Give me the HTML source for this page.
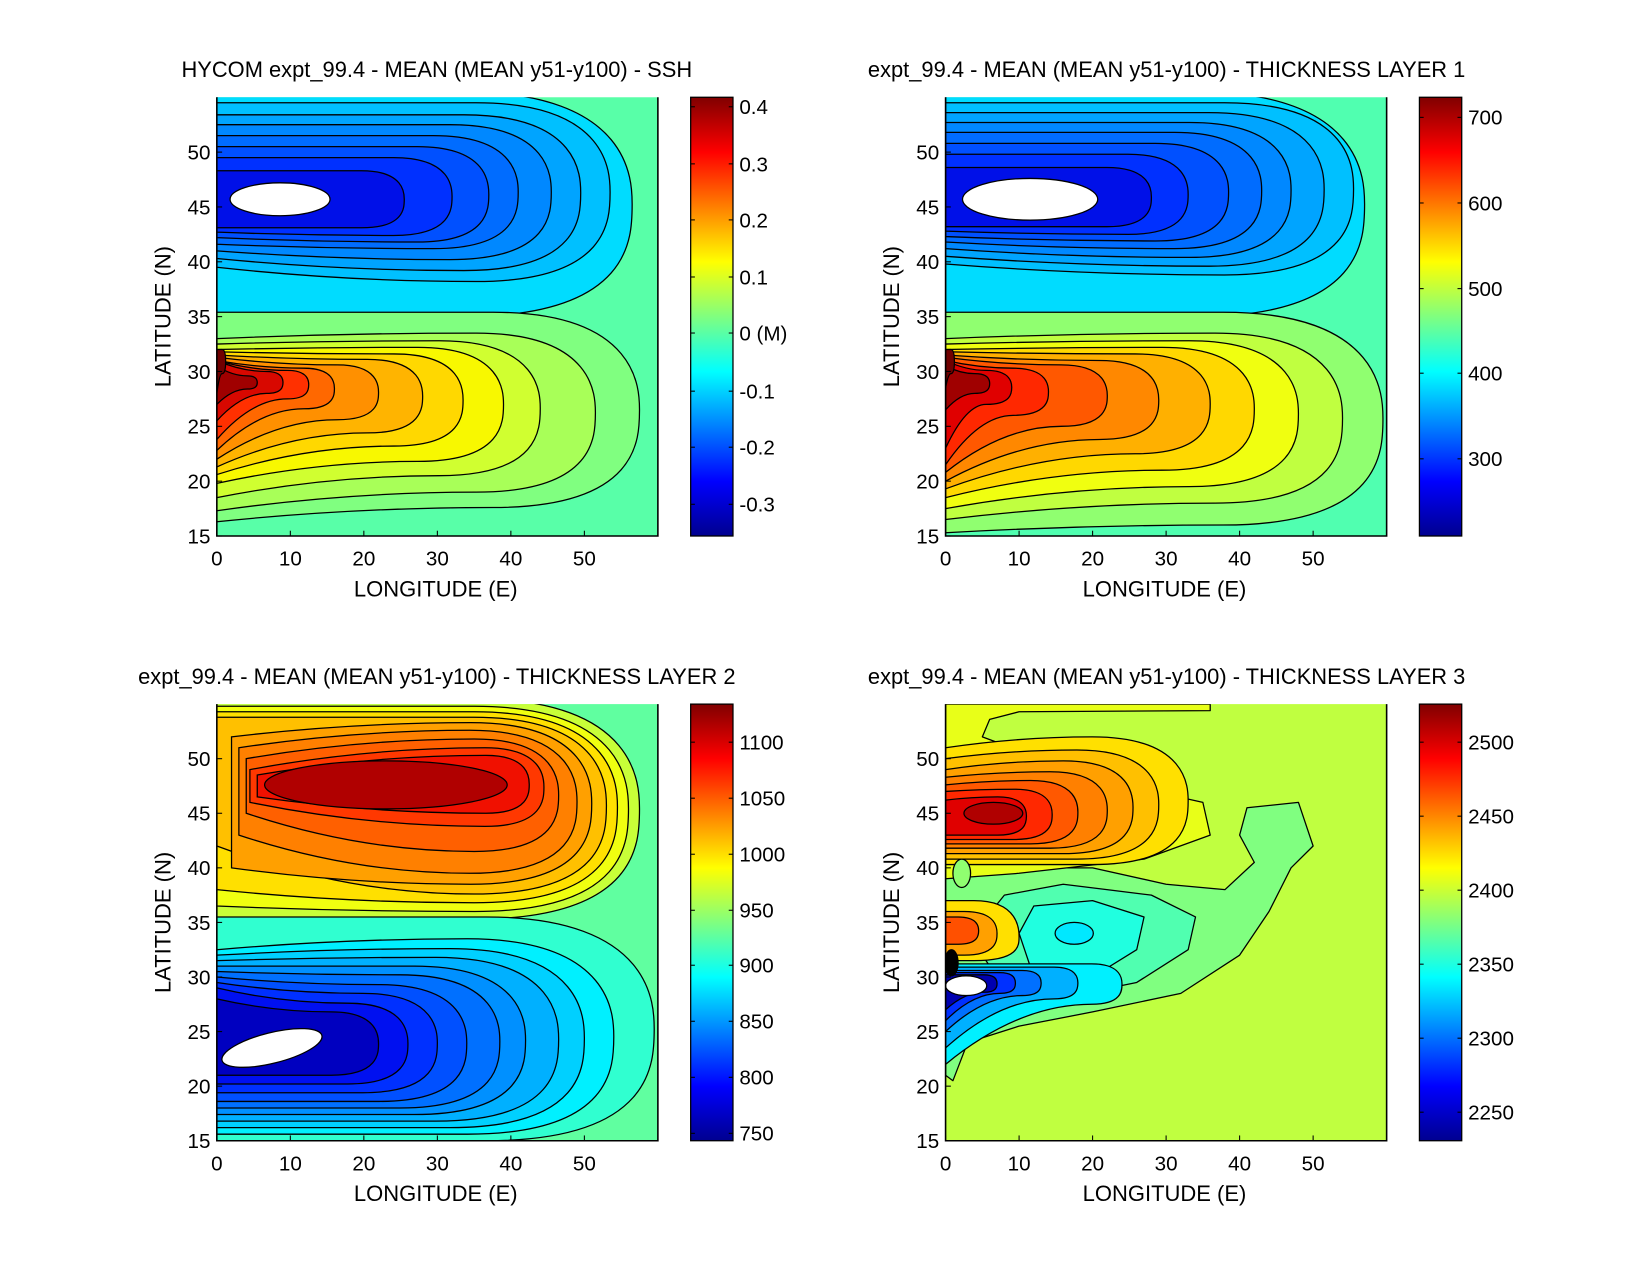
<!DOCTYPE html>
<html><head><meta charset="utf-8"><style>
html,body{margin:0;padding:0;background:#fff;}
svg{display:block;}
text{font-family:"Liberation Sans",sans-serif;fill:#000;}
</style></head><body>
<svg id="s" width="1650" height="1275" viewBox="0 0 1560 1206" preserveAspectRatio="none" xmlns="http://www.w3.org/2000/svg">
<defs>
<linearGradient id="jet" x1="0" y1="1" x2="0" y2="0">
<stop offset="0" stop-color="#00008f"/><stop offset="0.125" stop-color="#0000ff"/>
<stop offset="0.375" stop-color="#00ffff"/><stop offset="0.625" stop-color="#ffff00"/>
<stop offset="0.875" stop-color="#ff0000"/><stop offset="1" stop-color="#800000"/>
</linearGradient>
</defs>
</svg>
<script>
var S=document.getElementById('s'),NS='http://www.w3.org/2000/svg';
function el(t,a,txt){var e=document.createElementNS(NS,t);for(var k in a)e.setAttribute(k,a[k]);if(txt!==undefined)e.textContent=txt;S.appendChild(e);return e;}
function panel(ax,ay,h,bg,layers,cb,title,tx){
 var W=417;
 function X(l){return ax+l*6.95;} function Y(l){return ay+(55-l)*(h/40);}
 el('clipPath',{id:'c'+ax+ay}).appendChild((function(){var r=document.createElementNS(NS,'rect');r.setAttribute('x',ax);r.setAttribute('y',ay);r.setAttribute('width',W);r.setAttribute('height',h);return r;})());
 el('rect',{x:ax,y:ay,width:W,height:h,fill:bg});
 layers.forEach(function(L){
  if(L.t=='g'){var x0=X(L.x0||0),yt=Y(L.a),yb=Y(L.b),xe=X(L.e);var hh=yb-yt;var xm=Math.max(x0+5,xe-Math.min(0.75*hh,(xe-x0)*0.7));
   var yt0=Y(L.a0!==undefined?L.a0:L.a),yb0=Y(L.b0!==undefined?L.b0:L.b);var xq=(x0+xm)/2;
   var ym=yt+hh*(L.m||0.5);
   var d='M'+x0+','+yt0+' Q'+xq+','+yt+' '+xm+','+yt+' C'+xe+','+yt+' '+xe+','+(ym-hh*0.1)+' '+xe+','+ym+' C'+xe+','+(ym+hh*0.15)+' '+xe+','+yb+' '+xm+','+yb+' Q'+xq+','+yb+' '+x0+','+yb0+' Z';
   el('path',{d:d,fill:L.c,stroke:'#000','stroke-width':1.2,'clip-path':'url(#c'+ax+ay+')'});}
  else if(L.t=='e'){el('ellipse',{cx:X(L.x),cy:Y(L.y),rx:L.rx*6.95,ry:L.ry*(h/40),fill:L.c,stroke:'#000','stroke-width':1.2,transform:L.r?'rotate('+L.r+' '+X(L.x)+' '+Y(L.y)+')':'','clip-path':'url(#c'+ax+ay+')'});}
  else if(L.t=='p'){var d='M'+L.p.map(function(q){return X(q[0])+','+Y(q[1]);}).join(' L')+' Z';el('path',{d:d,fill:L.c,stroke:'#000','stroke-width':1.2,'stroke-linejoin':'round','clip-path':'url(#c'+ax+ay+')'});}
 });
 el('path',{d:'M'+ax+','+ay+' L'+ax+','+(ay+h)+' L'+(ax+W)+','+(ay+h)+' L'+(ax+W)+','+ay,fill:'none',stroke:'#000','stroke-width':1.5});
 for(var i=0;i<=5;i++){var x=X(i*10);el('line',{x1:x,y1:ay+h,x2:x,y2:ay+h-5,stroke:'#000'});el('text',{x:x,y:ay+h+28,'font-size':19.5,'text-anchor':'middle'},''+i*10);}
 for(var j=15;j<=50;j+=5){var y=Y(j);el('line',{x1:ax,y1:y,x2:ax+5,y2:y,stroke:'#000'});el('text',{x:ax-6,y:y+7,'font-size':19.5,'text-anchor':'end'},''+j);}
 el('text',{x:ax+207,y:ay+h+57,'font-size':20.8,'text-anchor':'middle'},'LONGITUDE (E)');
 el('text',{x:0,y:0,'font-size':20.8,'text-anchor':'middle',transform:'translate('+(ax-44)+','+(ay+h/2)+') rotate(-90)'},'LATITUDE (N)');
 el('text',{x:tx,y:ay-19,'font-size':20.7,'text-anchor':'middle'},title);
 var cx=ax+448;el('rect',{x:cx,y:ay,width:40,height:h,fill:'url(#jet)',stroke:'#000','stroke-width':1.2});
 cb.forEach(function(t){el('line',{x1:cx,y1:t[1],x2:cx+4,y2:t[1],stroke:'#000'});el('line',{x1:cx+40,y1:t[1],x2:cx+36,y2:t[1],stroke:'#000'});el('text',{x:cx+46,y:t[1]+7,'font-size':19.5},t[0]);});
}
// Panel 1 SSH
var ssh=[
{t:'g',c:'#00dcff',a:55.5,b:35,e:56.5},{t:'g',c:'#00c0ff',a:54.5,b:38.2,e:53.5,b0:39.5},{t:'g',c:'#00a4ff',a:53.4,b:39.2,e:49.5,b0:40.3},
{t:'g',c:'#0088ff',a:52.5,b:40.2,e:45.5,b0:41},{t:'g',c:'#006cff',a:51.5,b:41.2,e:41,b0:41.6},{t:'g',c:'#0050ff',a:50.5,b:41.8,e:37,b0:42.2},
{t:'g',c:'#0030ff',a:49.5,b:42.4,e:32,b0:42.7},{t:'g',c:'#0010e8',a:48.3,b:43.1,e:25.5},{t:'e',c:'#fff',x:8.6,y:45.7,rx:6.8,ry:1.5},
{t:'g',c:'#80ff80',a:35.4,b:17.6,e:57.5,b0:16.3},{t:'g',c:'#a8ff58',a:33.5,b:19,e:51.5,a0:33,b0:17.3},{t:'g',c:'#d0ff30',a:32.8,b:20.5,e:44,a0:32.5,b0:18.5},
{t:'g',c:'#f8f800',a:32.2,b:21.8,e:39,a0:32,b0:19.8},{t:'g',c:'#ffd800',a:31.6,b:23.2,e:33.5,a0:31.8,b0:20.6},{t:'g',c:'#ffb400',a:31.1,b:24.4,e:28,a0:31.5,b0:21.3},
{t:'g',c:'#ff9000',a:30.6,b:25.6,e:22,a0:31.3,b0:22},{t:'g',c:'#ff6800',a:30.3,b:26.6,e:16,a0:31,b0:22.8},{t:'g',c:'#ff3000',a:30.1,b:27.5,e:12.5,a0:31,b0:23.8},
{t:'g',c:'#d80800',a:30,b:28,e:9,a0:31,b0:25.5},{t:'g',c:'#a00000',a:29.6,b:28.4,e:5.5,a0:30.5,b0:27},{t:'g',c:'#700000',a:32,b:29.8,e:1.2,b0:28}];
panel(205,92,415,'#58ffa8',ssh,[['0.4',101],['0.3',155],['0.2',208],['0.1',262],['0    (M)',315],['-0.1',370],['-0.2',423],['-0.3',477]],'HYCOM expt_99.4 - MEAN (MEAN y51-y100) - SSH',413);
// Panel 2 layer 1
var l1=[
{t:'g',c:'#00dcff',a:55.5,b:35,e:57},{t:'g',c:'#00c0ff',a:54.5,b:38.8,e:55.5,b0:39.8},{t:'g',c:'#00a4ff',a:53.6,b:39.6,e:51.5,b0:40.5},
{t:'g',c:'#0088ff',a:52.7,b:40.4,e:47,b0:41.2},{t:'g',c:'#006cff',a:51.8,b:41.2,e:43,b0:41.8},{t:'g',c:'#0050ff',a:50.8,b:41.9,e:38.5,b0:42.3},
{t:'g',c:'#0030ff',a:49.8,b:42.5,e:33,b0:42.8},{t:'g',c:'#0010e8',a:48.6,b:43.2,e:28},{t:'e',c:'#fff',x:11.5,y:45.7,rx:9.2,ry:1.9},
{t:'g',c:'#90ff70',a:35.4,b:16,e:59.5,b0:15.3},{t:'g',c:'#c0ff40',a:33.5,b:18,e:54,a0:33,b0:16.5},{t:'g',c:'#f0ff10',a:32.8,b:19.5,e:48,a0:32.5,b0:17.5},
{t:'g',c:'#ffd800',a:32.2,b:21,e:42,a0:32,b0:18.5},{t:'g',c:'#ffb000',a:31.6,b:22.5,e:36,a0:31.8,b0:19.3},{t:'g',c:'#ff8800',a:31,b:23.8,e:29,a0:31.5,b0:20},
{t:'g',c:'#ff5800',a:30.6,b:25,e:22,a0:31.3,b0:20.8},{t:'g',c:'#ff2800',a:30.3,b:26,e:14,a0:31,b0:21.5},{t:'g',c:'#e00000',a:30.1,b:27,e:9,a0:31,b0:23},
{t:'g',c:'#a00000',a:29.8,b:28,e:6,a0:30.5,b0:26.5},{t:'g',c:'#700000',a:32,b:29.8,e:1.2,b0:28.5}];
panel(894,92,415,'#50ffb0',l1,[['700',111],['600',192],['500',273],['400',353],['300',434]],'expt_99.4 - MEAN (MEAN y51-y100) - THICKNESS LAYER 1',1103);
// Panel 3 layer 2
var l2=[
{t:'g',c:'#c8ff38',a:55.5,b:35.3,e:57.5},{t:'g',c:'#f0ff10',a:54.8,b:36,e:56,b0:36.5},{t:'g',c:'#ffe000',a:54.3,b:36.8,e:54.5,b0:38},
{t:'g',c:'#ffc000',a:53.8,b:37.6,e:53,b0:42},{t:'g',c:'#ffa000',a:53.3,b:38.5,e:51,x0:2,b0:40,a0:52},{t:'g',c:'#ff8000',a:52.6,b:39.5,e:49,x0:3,a0:51,b0:43},
{t:'g',c:'#ff6000',a:51.8,b:41.5,e:46.5,x0:4,a0:50,b0:45},{t:'g',c:'#ff3800',a:51,b:43.8,e:44.5,x0:4.5,a0:49,b0:46},{t:'g',c:'#f01000',a:50.3,b:45,e:42.5,x0:5.5,a0:48.5,b0:46.5},
{t:'e',c:'#b00000',x:23,y:47.6,rx:16.5,ry:2.2},
{t:'g',c:'#30ffd0',a:35.5,b:15,e:59.5},{t:'g',c:'#00f0ff',a:33.5,b:15.6,e:54,a0:32.5},{t:'g',c:'#00d0ff',a:32.6,b:16.2,e:50,a0:32},
{t:'g',c:'#00b0ff',a:31.8,b:16.8,e:46.5,a0:31.5},{t:'g',c:'#0090ff',a:31,b:17.4,e:42,a0:31},{t:'g',c:'#0070ff',a:30.2,b:18,e:38.5,a0:30.5},
{t:'g',c:'#0050ff',a:29.3,b:18.6,e:34,a0:30},{t:'g',c:'#0030ff',a:28.5,b:19.4,e:30,a0:29.5},{t:'g',c:'#0010f0',a:27.6,b:20.2,e:26,a0:29},
{t:'g',c:'#0000c0',a:26.8,b:21,e:22,a0:28},{t:'e',c:'#fff',x:7.5,y:23.5,rx:7,ry:1.4,r:-14}];
panel(205,666,413,'#60ffa0',l2,[['1100',702],['1050',755],['1000',808],['950',861],['900',913],['850',966],['800',1019],['750',1072]],'expt_99.4 - MEAN (MEAN y51-y100) - THICKNESS LAYER 2',413);
// Panel 4 layer 3
var l3=[
{t:'p',c:'#80ff80',p:[[0,40],[20,40],[30,38.5],[38,38],[42,40.5],[40,43],[41,45.5],[48,46],[50,42],[47,40],[44,36],[40,32],[32,28.5],[20,26.8],[10,25.5],[3,24],[1,20.5],[0,21]]},
{t:'p',c:'#e8ff18',p:[[0,55],[36,55],[36,54.4],[10,54.3],[6,53.6],[5,52],[13,50],[25,47.5],[35,46],[36,43],[27,40.8],[10,39.5],[0,39]]},
{t:'g',c:'#ffe000',a:52,b:40.3,e:33,a0:51},{t:'g',c:'#ffc000',a:50.8,b:40.8,e:29,a0:50},{t:'g',c:'#ffa000',a:49.8,b:41.3,e:25.5,a0:49},
{t:'g',c:'#ff8000',a:48.8,b:41.8,e:22,a0:48.3},{t:'g',c:'#ff5800',a:48,b:42.2,e:18,a0:47.6},{t:'g',c:'#ff2800',a:47.2,b:42.6,e:14.5,a0:47},
{t:'g',c:'#e00000',a:46.5,b:43,e:11,a0:46.2},{t:'e',c:'#b00000',x:6.5,y:45,rx:4,ry:1},
{t:'p',c:'#50ffb0',p:[[4,33],[5,35],[8,37.5],[16,38.5],[28,37.5],[34,35.5],[33,32.5],[26,29.5],[15,28],[7,30]]},
{t:'p',c:'#20ffe0',p:[[10,34],[12,36.5],[20,37],[27,35.5],[26,32.5],[20,30],[12,30]]},
{t:'e',c:'#00e8ff',x:17.5,y:34,rx:2.6,ry:1},
{t:'e',c:'#90ff70',x:2.2,y:39.5,rx:1.2,ry:1.3},
{t:'g',c:'#ffe000',a:37,b:31.5,e:10,m:0.6},{t:'g',c:'#ffa000',a:36,b:32,e:7},{t:'g',c:'#ff5000',a:35.5,b:33,e:4.5},
{t:'g',c:'#00f0ff',a:31.2,b:27.5,e:24,b0:22},{t:'g',c:'#00b0ff',a:30.9,b:28,e:18,b0:23.5},{t:'g',c:'#0070ff',a:30.6,b:28.3,e:13,b0:25},
{t:'g',c:'#0030ff',a:30.4,b:28.5,e:9.5,b0:26},{t:'g',c:'#0000b0',a:30.2,b:28.6,e:7,b0:27},{t:'e',c:'#fff',x:2.8,y:29.2,rx:2.8,ry:0.9},
{t:'e',c:'#000',x:0.8,y:31.3,rx:0.9,ry:1.2}];
panel(894,666,413,'#c0ff40',l3,[['2500',702],['2450',772],['2400',842],['2350',912],['2300',982],['2250',1052]],'expt_99.4 - MEAN (MEAN y51-y100) - THICKNESS LAYER 3',1103);
</script>
</body></html>
